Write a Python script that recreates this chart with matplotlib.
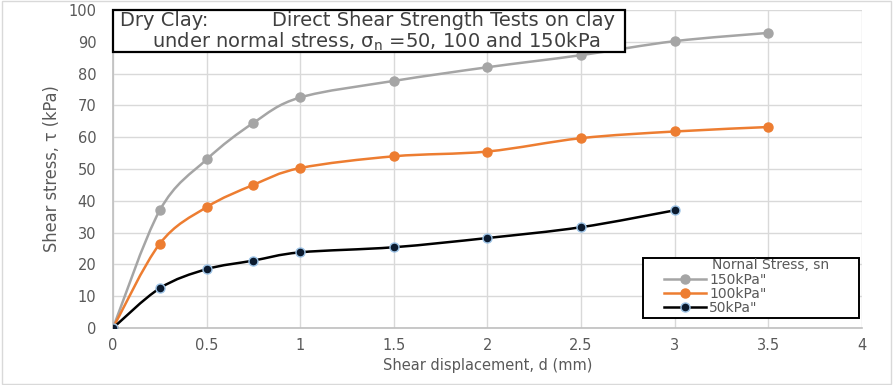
import matplotlib.pyplot as plt
from matplotlib.path import Path
from matplotlib.patches import PathPatch, Rectangle
from matplotlib.lines import Line2D

# data
d_150 = [0, 0.25, 0.5, 0.75, 1.0, 1.5, 2.0, 2.5, 3.0, 3.5]
tau_150 = [0, 37.0, 53.0, 64.5, 72.5, 77.7, 82.0, 85.8, 90.2, 92.8]
d_100 = [0, 0.25, 0.5, 0.75, 1.0, 1.5, 2.0, 2.5, 3.0, 3.5]
tau_100 = [0, 26.5, 38.0, 45.0, 50.3, 54.0, 55.5, 59.7, 61.8, 63.2]
d_50 = [0, 0.25, 0.5, 0.75, 1.0, 1.5, 2.0, 2.5, 3.0]
tau_50 = [0, 12.5, 18.5, 21.2, 23.8, 25.4, 28.3, 31.7, 37.0]
labels = ['150kPa"', '100kPa"', '50kPa"']

plt.rcParams['font.family'] = ['DejaVu Sans']


def smooth_path(x, y):
    # excel-like smoothed line: cubic bezier with catmull-rom tangents
    verts = [(x[0], y[0])]
    codes = [Path.MOVETO]
    n = len(x)
    for i in range(n - 1):
        x0, y0 = (x[i - 1], y[i - 1]) if i > 0 else (x[i], y[i])
        x3, y3 = (x[i + 2], y[i + 2]) if i + 2 < n else (x[i + 1], y[i + 1])
        c1 = (x[i] + (x[i + 1] - x0) / 6, y[i] + (y[i + 1] - y0) / 6)
        c2 = (x[i + 1] - (x3 - x[i]) / 6, y[i + 1] - (y3 - y[i]) / 6)
        verts += [c1, c2, (x[i + 1], y[i + 1])]
        codes += [Path.CURVE4] * 3
    return Path(verts, codes)


fig = plt.figure(figsize=(8.93, 3.85), dpi=100)
fig.patches.append(Rectangle((0.002, 0.003), 0.996, 0.994, transform=fig.transFigure,
                             fill=False, edgecolor='#d9d9d9', lw=1))
ax = fig.add_axes([0.1265, 0.148, 0.8385, 0.826])

series = [
    (d_150, tau_150, '#a5a5a5', '#a5a5a5', '#a5a5a5'),
    (d_100, tau_100, '#ed7d31', '#ed7d31', '#ed7d31'),
    (d_50, tau_50, 'black', '#0b1a2e', '#9dc3e6'),
]
handles = []
for (x, y, lc, mfc, mec), lab in zip(series, labels):
    ax.add_patch(PathPatch(smooth_path(x, y), fill=False, edgecolor=lc, lw=1.8, zorder=3))
    ax.plot(x, y, ls='none', marker='o', ms=6.5, mfc=mfc, mec=mec, mew=1, zorder=4)
    handles.append(Line2D([], [], color=lc, lw=1.8, marker='o', ms=6.5, mfc=mfc, mec=mec, mew=1))

ax.set_xlim(0, 4)
ax.set_ylim(0, 100)
ax.set_xticks([0, 0.5, 1, 1.5, 2, 2.5, 3, 3.5, 4])
ax.set_xticklabels(['0', '0.5', '1', '1.5', '2', '2.5', '3', '3.5', '4'])
ax.set_yticks(range(0, 101, 10))
ax.grid(True, color='#d9d9d9', lw=1)
ax.set_axisbelow(True)
for s in ['top', 'right']:
    ax.spines[s].set_visible(False)
for s in ['left', 'bottom']:
    ax.spines[s].set_color('#bfbfbf')
    ax.spines[s].set_linewidth(1.2)
ax.tick_params(length=0, colors='#595959', labelsize=10.5)
ax.tick_params(axis='y', pad=12)
ax.tick_params(axis='x', pad=7)

ax.set_xlabel('Shear displacement, d (mm)', color='#595959', fontsize=10.5, labelpad=4)
ax.set_ylabel('Shear stress, τ (kPa)', color='#595959', fontsize=13,
              stretch='condensed', labelpad=5)

# title box
ax.add_patch(Rectangle((0.0, 0.868), 0.6836, 0.132, transform=ax.transAxes,
                       fc='white', ec='black', lw=1.6, zorder=6, clip_on=False))
ax.text(0.0095, 0.966, 'Dry Clay:', transform=ax.transAxes, ha='left', va='center',
        fontsize=14, color='#404040', zorder=7)
ax.text(0.671, 0.966, 'Direct Shear Strength Tests on clay', transform=ax.transAxes,
        ha='right', va='center', fontsize=14, color='#404040', zorder=7)
ax.text(0.352, 0.899, 'under normal stress, σ$_\\mathrm{n}$ =50, 100 and 150kPa',
        transform=ax.transAxes, ha='center', va='center', fontsize=14,
        color='#404040', zorder=7)

# legend box
ax.add_patch(Rectangle((0.7076, 0.031), 0.2894, 0.189, transform=ax.transAxes,
                       fc='white', ec='black', lw=1.4, zorder=6))
ax.text(0.7997, 0.199, 'Nornal Stress, sn', transform=ax.transAxes, ha='left',
        va='center', fontsize=10, color='#595959', zorder=8)
leg = ax.legend(handles, labels, loc='upper left',
                bbox_to_anchor=(0.736, 0.172), fontsize=10,
                frameon=False, borderpad=0, labelspacing=0.0, handlelength=3.0,
                handletextpad=0.25, borderaxespad=0)
leg.set_zorder(8)
for t in leg.get_texts():
    t.set_color('#595959')

fig.savefig('out.png', dpi=100)
